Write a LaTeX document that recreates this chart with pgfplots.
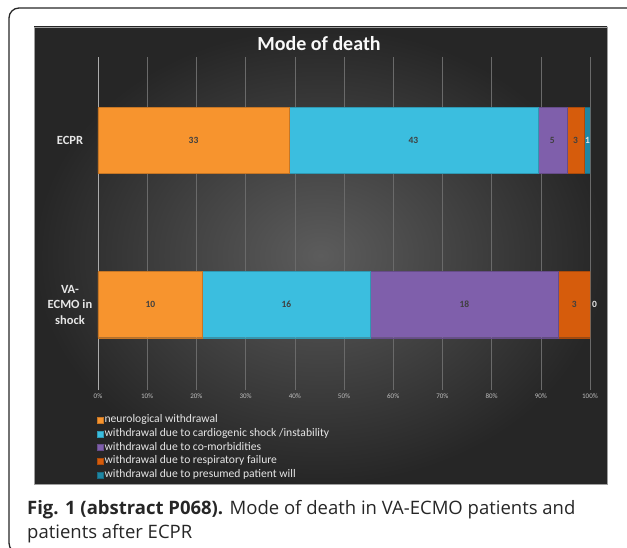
\documentclass[border=0pt]{standalone}
\usepackage{fontspec}
\setmainfont{Carlito}
\newfontfamily\capfont{Open Sans}
\usepackage{pgfplots}
\usepackage{pgfplotstable}
\pgfplotsset{compat=1.18}

\definecolor{cNeuro}{HTML}{F7942E}
\definecolor{cCardio}{HTML}{3BBEDF}
\definecolor{cComorb}{HTML}{7F5FAB}
\definecolor{cResp}{HTML}{D65C0C}
\definecolor{cWill}{HTML}{1E86A3}
\definecolor{gridc}{HTML}{6A6A6A}
\definecolor{tickc}{HTML}{C0C0C0}
\definecolor{labc}{HTML}{E6E6E6}
\definecolor{panelIn}{HTML}{5C5C5C}
\definecolor{panelOut}{HTML}{262626}

% y: 1 = ECPR, 0 = VA-ECMO in shock; p = share of deaths in percent
\pgfplotstableread{
y p
1 38.824
0 21.277
}\neuro
\pgfplotstableread{
y p
1 50.588
0 34.043
}\cardio
\pgfplotstableread{
y p
1 5.882
0 38.298
}\comorb
\pgfplotstableread{
y p
1 3.529
0 6.383
}\resp
\pgfplotstableread{
y p
1 1.176
0 0
}\will
% counts shown on the bars, at the middle of each segment
\pgfplotstableread{
x y n
19.41 1 33
64.12 1 43
92.35 1 5
97.06 1 3
10.64 0 10
38.30 0 16
74.47 0 18
96.81 0 3
}\counts
% counts of the thinnest segments, which sit on the bar's end
\pgfplotstableread{
x y n
99.5 1 1
100.9 0 0
}\countsout

\pgfplotsset{
  chartaxis/.style={
    scale only axis, width=492pt, height=333pt,
    at={(98pt,-390pt)}, anchor=south west,
    xmin=0, xmax=100, ymin=-0.52, ymax=1.51,
  },
}

\begin{document}
\begin{tikzpicture}
\path[use as bounding box] (0,0) rectangle (627pt,-548pt);
\begin{scope}
\clip (0,0) rectangle (627pt,-548pt);
\draw[black!85, line width=1.3pt, rounded corners=10pt] (9pt,-8pt) rectangle (660pt,-553pt);
\end{scope}
\shade[inner color=panelIn, outer color=panelOut, draw=gray!75, line width=0.6pt]
  (34pt,-27pt) rectangle (607pt,-484pt);
\node[text=white!95!gray, font=\fontsize{20}{24}\selectfont\bfseries]
  at (319pt,-44pt) {Mode of death};

\begin{axis}[chartaxis,
  xbar stacked, bar width=66pt,
  axis lines=left,
  x axis line style={draw=none},
  y axis line style={-, draw=gray!65, line width=0.6pt},
  major tick length=0pt,
  xtick={0,10,...,100},
  xticklabel={\pgfmathprintnumber{\tick}\%},
  /pgf/number format/assume math mode=true,
  xticklabel style={font=\fontsize{7}{8}\selectfont, text=tickc},
  xmajorgrids, grid style={gridc, line width=0.5pt},
  ytick={0,1},
  yticklabels={{VA-\\ECMO in\\shock},ECPR},
  yticklabel style={font=\fontsize{12.5}{15.5}\selectfont\bfseries, text=labc,
    align=center, anchor=center, xshift=-28pt},
  legend style={at={(0,0)}, anchor=north west, xshift=-4pt, yshift=-22pt,
    draw=none, fill=none, font=\fontsize{11.6}{12}\selectfont, text=labc,
    nodes={inner sep=1pt, text height=7.5pt, text depth=2.2pt},
    row sep=2pt, cells={anchor=west}},
  legend image code/.code={\fill[#1] (0pt,-3pt) rectangle (6pt,3pt);},
]
\addplot[fill=cNeuro, draw=cNeuro!80!black, line width=0.4pt] table[x=p, y=y] {\neuro};
\addlegendentry{neurological withdrawal}
\addplot[fill=cCardio, draw=cCardio!80!black, line width=0.4pt] table[x=p, y=y] {\cardio};
\addlegendentry{withdrawal due to cardiogenic shock /instability}
\addplot[fill=cComorb, draw=cComorb!80!black, line width=0.4pt] table[x=p, y=y] {\comorb};
\addlegendentry{withdrawal due to co-morbidities}
\addplot[fill=cResp, draw=cResp!80!black, line width=0.4pt] table[x=p, y=y] {\resp};
\addlegendentry{withdrawal due to respiratory failure}
\addplot[fill=cWill, draw=cWill!80!black, line width=0.4pt] table[x=p, y=y] {\will};
\addlegendentry{withdrawal due to presumed patient will}
\end{axis}

\begin{axis}[chartaxis, hide axis, clip=false]
\addplot[only marks, mark=none, nodes near coords, point meta=explicit symbolic,
  every node near coord/.append style={anchor=center,
    font=\fontsize{9.5}{10}\selectfont\bfseries, text=black!75}]
  table[x=x, y=y, meta=n] {\counts};
\addplot[only marks, mark=none, nodes near coords, point meta=explicit symbolic,
  every node near coord/.append style={anchor=center,
    font=\fontsize{9.5}{10}\selectfont\bfseries, text=labc}]
  table[x=x, y=y, meta=n] {\countsout};
\end{axis}

\node[anchor=base west, font=\capfont\fontsize{18.5}{20}\selectfont, text=black!85, inner sep=0pt]
  at (27pt,-514pt) {\textbf{Fig. 1 (abstract P068).} Mode of death in VA-ECMO patients and};
\node[anchor=base west, font=\capfont\fontsize{18.5}{20}\selectfont, text=black!85, inner sep=0pt]
  at (27pt,-538pt) {patients after ECPR};
\end{tikzpicture}
\end{document}
